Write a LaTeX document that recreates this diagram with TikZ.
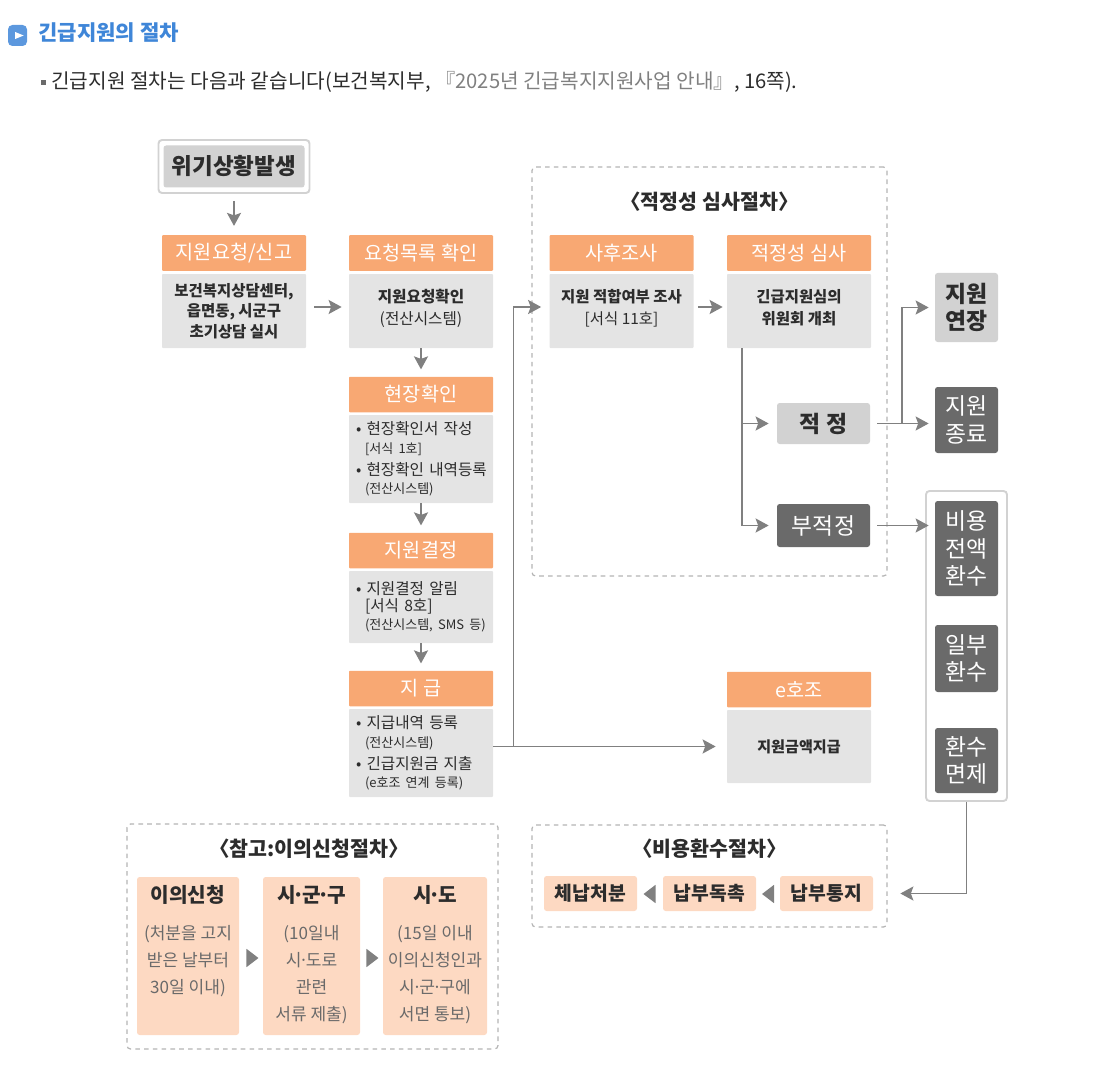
\documentclass[tikz,border=0pt]{standalone}
\usepackage{fontspec}
\setmainfont{Noto Sans CJK KR}
\usepackage{tikz}
\usetikzlibrary{arrows.meta,shapes.geometric}
\definecolor{headorange}{HTML}{F8A873}
\definecolor{bodygrey}{HTML}{E4E4E4}
\definecolor{lightgrey}{HTML}{D2D2D2}
\definecolor{darkgrey}{HTML}{6A6A6A}
\definecolor{linegrey}{HTML}{808080}
\definecolor{framegrey}{HTML}{B4B4B4}
\definecolor{softpeach}{HTML}{FDD9C2}
\definecolor{textdark}{HTML}{2C2C2C}
\definecolor{titleblue}{HTML}{3F86D8}
\newcommand{\fsize}[1]{\fontsize{#1}{#1}\selectfont}
\newcommand{\subline}[1]{\hspace*{.18cm}{\fsize{7.4}#1}}
\newcommand{\pdot}{\hspace{-.15em}·\hspace{-.15em}}
\tikzset{
  flowarrow/.style={-{Stealth[length=2.6mm,width=2.8mm,inset=.5mm]}, line width=1.05pt, draw=linegrey},
  headbox/.style={fill=headorange, rounded corners=.5pt, minimum width=2.88cm, minimum height=.71cm, inner sep=0pt, text=white, font=\fsize{11.2}},
  bodybox/.style={fill=bodygrey, rounded corners=.5pt, minimum width=2.88cm, minimum height=1.48cm, inner sep=0pt, align=center, text=textdark},
  listbox/.style={fill=bodygrey, rounded corners=.5pt, inner xsep=.14cm, inner ysep=0pt, text width=2.6cm, align=left, text=textdark, font=\fontsize{8.9}{11}\selectfont},
  lightbox/.style={fill=lightgrey, rounded corners=1.5pt, inner sep=0pt, align=center, text=textdark, font=\fontsize{13}{15.6}\bfseries\selectfont},
  darkbox/.style={fill=darkgrey, rounded corners=1.5pt, inner sep=0pt, align=center, text=white, font=\fontsize{13}{15.6}\selectfont},
  framebox/.style={draw=framegrey, line width=.7pt, dash pattern=on 2.6pt off 2.4pt, rounded corners=2pt, inner sep=0pt},
  framelabel/.style={text=textdark, inner sep=0pt, font=\fsize{11.7}\bfseries},
  softbox/.style={fill=softpeach, rounded corners=1.5pt, minimum height=3.16cm, inner sep=0pt, align=center, text=darkgrey, text depth=.12cm, font=\fontsize{9.7}{15.4}\selectfont},
  retbox/.style={fill=softpeach, rounded corners=1.5pt, minimum width=1.86cm, minimum height=.70cm, inner sep=0pt, text=textdark, font=\fsize{11}\bfseries},
  marker/.style={isosceles triangle, isosceles triangle apex angle=75, fill=linegrey, inner sep=0pt, minimum height=.24cm, minimum width=.32cm}
}
\begin{document}
\begin{tikzpicture}
  \useasboundingbox (0,0) rectangle (22.36,-21.68);
  % page heading
  \node[fill=titleblue!85, rounded corners=2.5pt, minimum width=.38cm, minimum height=.42cm, inner sep=0pt] (icon) at (.35,-.71) {};
  \node[isosceles triangle, fill=white, inner sep=0pt, minimum height=.09cm, minimum width=.14cm] (iconmark) at (.35,-.71) {};
  \node[anchor=west, inner sep=0pt, text=titleblue, font=\fsize{12}\bfseries] (title) at (.76,-.66) {긴급지원의 절차};
  \node[fill=darkgrey, minimum size=.1cm, inner sep=0pt] (dot) at (.87,-1.65) {};
  \node[anchor=west, inner sep=0pt, text=textdark, font=\fsize{11.5}] (intro) at (1.02,-1.63) {긴급지원 절차는 다음과 같습니다(보건복지부, {\color{black!50}『2025년 긴급복지지원사업 안내』}, 16쪽).};

  % frames first
  \node[framebox, minimum width=7.1cm, minimum height=8.18cm] (revframe) at (14.19,-7.43) {};
  \node[framebox, minimum width=7.1cm, minimum height=2.04cm] (retframe) at (14.19,-17.52) {};
  \node[framebox, minimum width=7.42cm, minimum height=4.5cm] (appframe) at (6.25,-18.73) {};
  \node[draw=lightgrey, line width=1.1pt, rounded corners=2pt, minimum width=1.62cm, minimum height=6.2cm, inner sep=0pt] (refund) at (19.33,-12.92) {};
  \node[framelabel] (revlabel) at (14.19,-4.04) {〈적정성 심사절차〉};
  \node[framelabel] (retlabel) at (14.19,-16.98) {〈비용환수절차〉};
  \node[framelabel] (applabel) at (6.18,-16.98) {〈참고:이의신청절차〉};

  % main column
  \node[draw=lightgrey, line width=1.1pt, fill=white, rounded corners=2pt, minimum width=3.02cm, minimum height=1.06cm] (crisisout) at (4.68,-3.33) {};
  \node[fill=lightgrey, rounded corners=1.5pt, minimum width=2.82cm, minimum height=.84cm, inner sep=0pt, text=textdark, font=\fsize{12.8}\bfseries] (crisis) at (4.68,-3.33) {위기상황발생};
  \node[headbox] (reqhead) at (4.68,-5.06) {지원요청/신고};
  \node[bodybox, font=\fontsize{8.8}{11.7}\bfseries\selectfont] (reqbody) at (4.68,-6.22) {보건복지상담센터,\\읍면동, 시군구\\초기상담 실시};
  \node[headbox] (listhead) at (8.42,-5.06) {요청목록 확인};
  \node[bodybox, font=\fontsize{8.9}{12.5}\selectfont, text depth=.15cm] (listbody) at (8.42,-6.22) {\textbf{지원요청확인}\\(전산시스템)};
  \node[headbox] (sitehead) at (8.42,-7.89) {현장확인};
  \node[listbox, minimum height=1.76cm] (sitebody) at (8.42,-9.18) {• 현장확인서 작성\\[-.5pt]\subline{[서식 1호]}\\[1.5pt]\mbox{• 현장확인 내역등록}\\[-.5pt]\subline{(전산시스템)}};
  \node[headbox] (dechead) at (8.42,-11.01) {지원결정};
  \node[listbox, minimum height=1.44cm] (decbody) at (8.42,-12.14) {• 지원결정 알림\\[-1.5pt]\hspace*{.18cm}[서식 8호]\\[-.5pt]\subline{(전산시스템, SMS 등)}};
  \node[headbox] (payhead) at (8.42,-13.77) {지 급};
  \node[listbox, minimum height=1.76cm] (paybody) at (8.42,-15.06) {• 지급내역 등록\\[-.5pt]\subline{(전산시스템)}\\[1.5pt]• 긴급지원금 지출\\[-.5pt]\subline{(e호조 연계 등록)}};

  % review column
  \node[headbox] (posthead) at (12.43,-5.06) {사후조사};
  \node[bodybox, font=\fontsize{8.8}{12.5}\selectfont, text depth=.15cm] (postbody) at (12.43,-6.22) {\textbf{지원 적합여부 조사}\\{}[서식 11호]};
  \node[headbox] (revhead) at (15.98,-5.06) {적정성 심사};
  \node[bodybox, font=\fontsize{8.8}{12.5}\bfseries\selectfont, text depth=.15cm] (revbody) at (15.98,-6.22) {긴급지원심의\\위원회 개최};
  \node[lightbox, minimum width=1.86cm, minimum height=.82cm, font=\fsize{13}\bfseries] (okbox) at (16.47,-8.47) {적 정};
  \node[darkbox, minimum width=1.86cm, minimum height=.86cm, font=\fsize{13}] (nobox) at (16.47,-10.51) {부적정};
  \node[headbox] (ehead) at (15.98,-13.79) {e호조};
  \node[bodybox, minimum height=1.46cm, font=\fsize{8.6}\bfseries] (ebody) at (15.98,-14.93) {지원금액지급};

  % outcome boxes
  \node[lightbox, minimum width=1.26cm, minimum height=1.38cm] (extbox) at (19.33,-6.15) {지원\\연장};
  \node[darkbox, minimum width=1.26cm, minimum height=1.32cm] (endbox) at (19.33,-8.40) {지원\\종료};
  \node[darkbox, minimum width=1.26cm, minimum height=1.9cm] (fullbox) at (19.33,-10.97) {비용\\전액\\환수};
  \node[darkbox, minimum width=1.26cm, minimum height=1.34cm] (partbox) at (19.33,-13.17) {일부\\환수};
  \node[darkbox, minimum width=1.26cm, minimum height=1.3cm] (waivebox) at (19.33,-15.21) {환수\\면제};

  % refund steps
  \node[retbox] (retc) at (16.53,-17.87) {납부통지};
  \node[retbox] (retb) at (14.19,-17.87) {납부독촉};
  \node[retbox] (reta) at (11.81,-17.87) {체납처분};
  \node[marker, shape border rotate=180] (retmarkb) at (15.39,-17.88) {};
  \node[marker, shape border rotate=180] (retmarka) at (13.02,-17.88) {};

  % appeal steps
  \node[softbox, minimum width=2.04cm] (appa) at (3.76,-19.12) {{\fsize{11.5}\bfseries\color{textdark}이의신청}\\[6pt](처분을 고지\\받은 날부터\\30일 이내)\\\mbox{}};
  \node[softbox, minimum width=1.94cm] (appb) at (6.23,-19.12) {{\fsize{11.5}\bfseries\color{textdark}시\pdot 군\pdot 구}\\[6pt](10일내\\시\pdot 도로\\관련\\서류 제출)};
  \node[softbox, minimum width=2.08cm] (appc) at (8.70,-19.12) {{\fsize{11.5}\bfseries\color{textdark}시\pdot 도}\\[6pt](15일 이내\\이의신청인과\\시\pdot 군\pdot 구에\\서면 통보)};
  \node[marker] (appmarka) at (5.02,-19.16) {};
  \node[marker] (appmarkb) at (7.42,-19.16) {};

  % connectors
  \coordinate (branch) at (10.27,-14.92);
  \coordinate (okfork) at (18.04,-8.47);
  \draw[flowarrow, shorten <=.14cm, shorten >=.18cm] (crisisout) -- (reqhead);
  \draw[flowarrow, shorten <=.16cm, shorten >=.14cm] ([yshift=.08cm]reqbody.east) -- ([yshift=.08cm]listbody.west);
  \draw[flowarrow, shorten >=.14cm] (listbody) -- (sitehead);
  \draw[flowarrow, shorten >=.14cm] (sitebody) -- (dechead);
  \draw[flowarrow, shorten >=.14cm] (decbody) -- (payhead);
  \draw[flowarrow, shorten >=.22cm] (paybody.east |- ebody.west) -- (ebody.west);
  \draw[flowarrow, shorten >=.16cm] (branch) |- ([yshift=.08cm]postbody.west);
  \draw[flowarrow, shorten <=.08cm, shorten >=.08cm] ([yshift=.08cm]postbody.east) -- ([yshift=.08cm]revbody.west);
  \draw[flowarrow, shorten >=.16cm] ([xshift=.3cm]revbody.south west) |- (okbox);
  \draw[flowarrow, shorten >=.16cm] ([xshift=.3cm]revbody.south west) |- (nobox);
  \draw[flowarrow, shorten <=.14cm, shorten >=.12cm] (okbox.east) -- (okbox.east -| endbox.west);
  \draw[flowarrow, shorten >=.12cm] (okfork) |- (extbox.west);
  \draw[flowarrow, shorten <=.14cm, shorten >=.12cm] (nobox.east) -- (nobox.east -| fullbox.west);
  \draw[flowarrow, shorten >=.54cm] (refund.south) |- (retc.east);
\end{tikzpicture}
\end{document}
